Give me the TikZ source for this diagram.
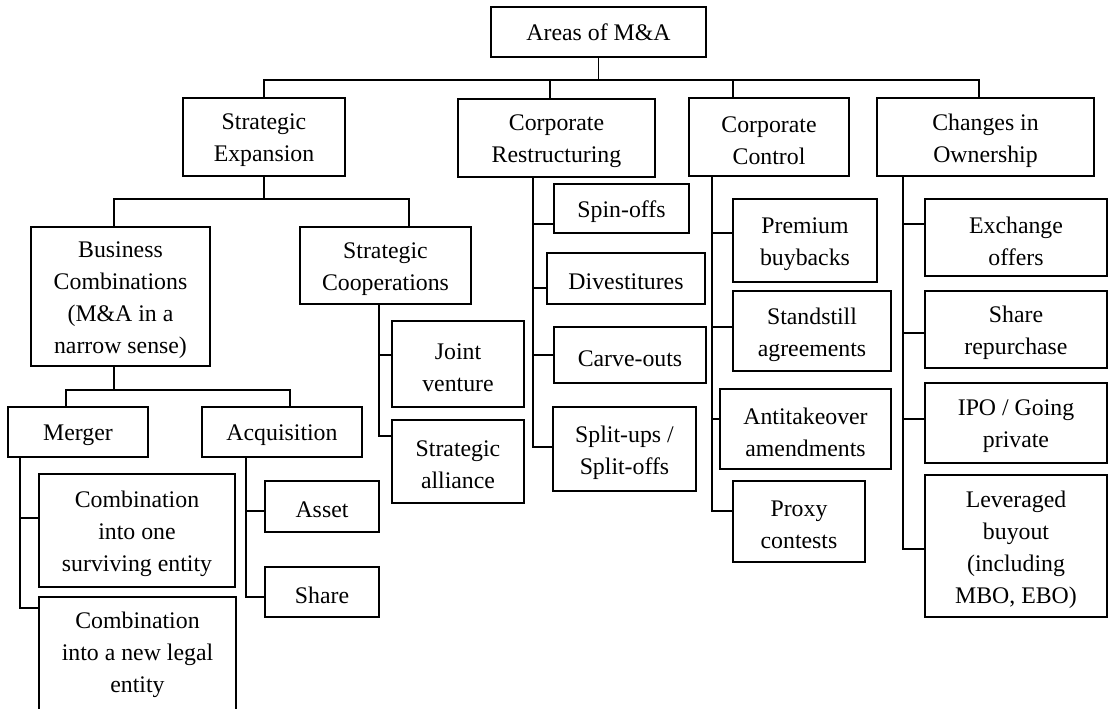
\documentclass[tikz,border=0pt]{standalone}
\usepackage{fontspec}
\setmainfont{Liberation Serif}
\tikzset{
  box/.style={draw, line width=1.5pt, inner sep=0pt, outer sep=0pt},
  lbl/.style={inner sep=0pt, align=center, font=\fontsize{17.85}{24}\selectfont},
  topbox/.style={line width=1.8pt},
  conn/.style={line width=1.3pt},
  pxs/.style={xshift=#1*0.75pt},
  pys/.style={yshift={-(#1)*0.75pt}},
}
% \Bx[text drop]{style}{name}{x1}{y1}{x2}{y2}{text}
\newcommand\Bx[8][3.5]{\node[box,#2,minimum width={(#6-#4)*0.75pt},minimum height={(#7-#5)*0.75pt},
  label={[lbl,yshift={-(#1)*0.75pt}]center:{#8}}] (#3) at ({(#4+#6)/2},{(#5+#7)/2}) {};}
\begin{document}
\begin{tikzpicture}[x=0.75pt,y=-0.75pt]
\useasboundingbox (0,0) rectangle (1108,708);
\Bx[0]{topbox}{top}{491}{7}{706}{57}{Areas of M\&A}
\Bx{}{se}{183}{98}{345}{176}{Strategic\\Expansion}
\Bx{}{cr}{458}{99}{655}{177}{Corporate\\Restructuring}
\Bx{}{cc}{689}{98}{849}{176}{Corporate\\Control}
\Bx{}{co}{877}{98}{1094}{176}{Changes in\\Ownership}
\Bx{}{bc}{31}{227}{210}{366}{Business\\Combinations\\(M\&A in a\\narrow sense)}
\Bx{}{sc}{300}{227}{471}{304}{Strategic\\Cooperations}
\Bx{}{jv}{392}{321}{524}{407}{Joint\\venture}
\Bx{}{sa}{392}{420}{524}{503}{Strategic\\alliance}
\Bx{}{mg}{8}{407}{148}{457}{Merger}
\Bx{}{aq}{202}{407}{362}{457}{Acquisition}
\Bx{}{ca}{39}{474}{235}{587}{Combination\\into one\\surviving entity}
\Bx[1]{}{cb}{39}{597}{236}{711}{Combination\\into a new legal\\entity}
\Bx{}{ast}{265}{481}{379}{532}{Asset}
\Bx{}{shr}{265}{567}{379}{617}{Share}
\Bx{}{so}{554}{184}{689}{233}{Spin-offs}
\Bx{}{dv}{547}{253}{705}{304}{Divestitures}
\Bx{}{cv}{554}{327}{706}{383}{Carve-outs}
\Bx{}{su}{553}{407}{696}{491}{Split-ups /\\Split-offs}
\Bx{}{pb}{733}{199}{877}{282}{Premium\\buybacks}
\Bx{}{sd}{733}{291}{891}{371}{Standstill\\agreements}
\Bx{}{ata}{720}{389}{891}{469}{Antitakeover\\amendments}
\Bx{}{prx}{733}{481}{865}{562}{Proxy\\contests}
\Bx{}{ex}{925}{199}{1107}{276}{Exchange\\offers}
\Bx{}{sr}{925}{291}{1107}{368}{Share\\repurchase}
\Bx{}{ip}{925}{383}{1107}{463}{IPO / Going\\private}
\Bx{}{lb}{925}{475}{1107}{617}{Leveraged\\buyout\\(including\\MBO, EBO)}
% top level
\path (top.south) ++(0,23) coordinate (bus0);
\draw[conn] (top.south) -- (bus0);
\draw[conn] (se.north) |- (bus0) -| ([pxs=-6.5]co.north);
\draw[conn] ([pxs=-6.5]cr.north) -- ++(0,-19);
\draw[conn] ([pxs=-36]cc.north) -- ++(0,-18);
% strategic expansion
\path (se.south) ++(0,23) coordinate (bus1);
\draw[conn] (se.south) -- (bus1);
\draw[conn] ([pxs=-6.5]bc.north) |- (bus1) -| ([pxs=23.5]sc.north);
% business combinations
\path ([pxs=-6.5]bc.south) ++(0,24) coordinate (bus2);
\draw[conn] ([pxs=-6.5]bc.south) -- (bus2);
\draw[conn] ([pxs=-12]mg.north) |- (bus2) -| ([pxs=8]aq.north);
% strategic cooperations
\draw[conn] ([pxs=-6.5]sc.south) |- ([pys=-25.5]sa.west);
\draw[conn] ([pys=-9]jv.west) -- ++(-13,0);
% merger
\draw[conn] ([pxs=-58]mg.south) |- ([pys=-46]cb.west);
\draw[conn] ([pys=-12.5]ca.west) -- ++(-19,0);
% acquisition
\draw[conn] ([pxs=-36]aq.south) |- ([pys=5]shr.west);
\draw[conn] ([pys=4.5]ast.west) -- ++(-19,0);
% corporate restructuring
\draw[conn] ([pxs=-23.5]cr.south) |- ([pys=-2]su.west);
\draw[conn] ([pys=15.5]so.west) -- ++(-21,0);
\draw[conn] ([pys=9.5]dv.west) -- ++(-14,0);
\draw[conn] (cv.west) -- ++(-21,0);
% corporate control
\draw[conn] ([pxs=-57]cc.south) |- ([pys=-10.5]prx.west);
\draw[conn] ([pys=-7.5]pb.west) -- ++(-21,0);
\draw[conn] ([pys=-4]sd.west) -- ++(-21,0);
\draw[conn] ([pys=-10]ata.west) -- ++(-8,0);
% changes in ownership
\draw[conn] ([pxs=-82.5]co.south) |- ([pys=3]lb.west);
\draw[conn] ([pys=-13.5]ex.west) -- ++(-22,0);
\draw[conn] ([pys=3.5]sr.west) -- ++(-22,0);
\draw[conn] ([pys=-4]ip.west) -- ++(-22,0);
\end{tikzpicture}
\end{document}
